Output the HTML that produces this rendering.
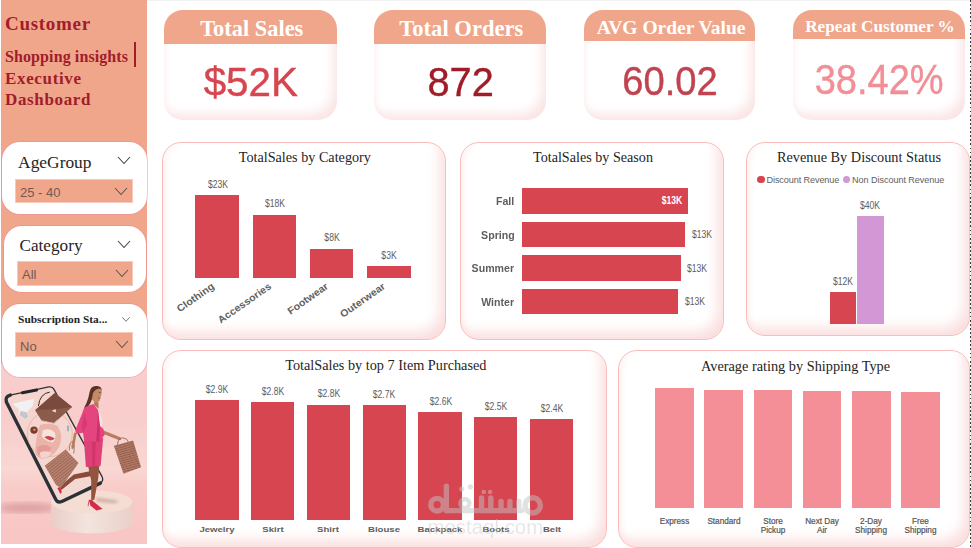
<!DOCTYPE html>
<html>
<head>
<meta charset="utf-8">
<title>Customer Shopping insights | Executive Dashboard</title>
<style>
*{box-sizing:border-box;margin:0;padding:0}
html,body{width:971px;height:548px;overflow:hidden;background:#fff}
body{position:relative;font-family:"Liberation Sans",sans-serif;color:#605E5C}
.abs{position:absolute}
.serif{font-family:"Liberation Serif",serif}
.topline{left:0;top:0;width:971px;height:1px;background:#f3f3f3}
.rightline{left:969.7px;top:0;width:1.3px;height:548px;background:repeating-linear-gradient(to bottom,#3a3a3a 0,#3a3a3a 1.8px,transparent 1.8px,transparent 4.1px)}
/* sidebar */
.side{left:1.3px;top:0;width:145.9px;height:363.5px;background:#F0A68A}
.sideimg{left:1px;top:375px;width:146px;height:170px;background:#F8CDCB;overflow:hidden}
.ttl{color:#A21C2B;font-family:"Liberation Serif",serif;font-weight:bold;white-space:nowrap}
.slicer{z-index:2;background:#fff;border-radius:18px;box-shadow:0 0 0 0.8px rgba(240,128,145,.55)}
.slicer .h{position:absolute;font-family:"Liberation Serif",serif;color:#252423;white-space:nowrap}
.dd{position:absolute;background:#F0A68A;border:1px solid #F6C9BC;font-size:13px;color:#73594f;white-space:nowrap}
/* kpi */
.kpi{background:#fff;border-radius:19px;overflow:hidden;box-shadow:inset -8px -10px 12px -4px #fbe4e4, inset 5px 0 7px -4px #fdeeee}
.kpi .hd{position:absolute;left:0;top:0;right:0;background:#F0A68A;color:#fff;font-family:"Liberation Serif",serif;font-weight:bold;text-align:center;white-space:nowrap}
.kpi .val{position:absolute;left:0;right:0;text-align:center;white-space:nowrap;-webkit-text-stroke:0.4px currentColor}
/* cards */
.card{background:#fff;border:1px solid #F9BDBB;border-radius:19px;box-shadow:inset -9px -11px 13px -4px #fbdede, inset 6px 0 8px -5px #fdeaea}
.ct{position:absolute;font-family:"Liberation Serif",serif;color:#252423;white-space:nowrap;text-align:center;transform:translateX(-50%)}
.bar{position:absolute;background:#D64550}
.pbar{position:absolute;background:#F48E97}
.vl{position:absolute;font-size:10px;line-height:10px;color:#605E5C;white-space:nowrap;transform:translateX(-50%) scaleX(0.86)}
.sl{transform:translateX(-50%)}
.al{position:absolute;font-size:9px;font-weight:bold;color:#605E5C;white-space:nowrap}
.alc{transform:translateX(-50%) scaleX(1.2);text-align:center;font-size:8px}
.rot{transform-origin:100% 50%;transform:translate(-100%,-50%) rotate(-35deg) scaleX(1.06);font-size:10px}
</style>
</head>
<body>
<div class="abs topline"></div>
<div class="abs rightline"></div>

<!-- SIDEBAR -->
<div class="abs side"></div>
<div class="abs ttl" style="left:5px;top:13px;font-size:19px;letter-spacing:0.7px">Customer</div>
<div class="abs ttl" style="left:5px;top:47.5px;font-size:16px;letter-spacing:0.1px">Shopping insights</div>
<div class="abs" style="left:133.6px;top:42.2px;width:2px;height:24.4px;background:#A21C2B"></div>
<div class="abs ttl" style="left:5px;top:69px;font-size:17px;letter-spacing:0.65px">Executive</div>
<div class="abs ttl" style="left:5px;top:90px;font-size:17px;letter-spacing:0.65px">Dashboard</div>

<div class="abs slicer" style="left:2.1px;top:142.4px;width:144.7px;height:71.4px">
  <div class="h" style="left:16px;top:10px;font-size:17.4px">AgeGroup</div>
  <svg class="abs" style="left:115px;top:14px" width="14" height="9" viewBox="0 0 14 9"><path d="M1 1 L7 7.5 L13 1" fill="none" stroke="#444" stroke-width="1.1"/></svg>
  <div class="dd" style="left:12.9px;top:36.2px;width:118px;height:24.6px;line-height:25px;padding-left:4px">25 - 40</div>
  <svg class="abs" style="left:112px;top:44.3px" width="14" height="9" viewBox="0 0 14 9"><path d="M1 1 L7 7.5 L13 1" fill="none" stroke="#5e5450" stroke-width="1.1"/></svg>
</div>
<div class="abs slicer" style="left:3.5px;top:226px;width:142.6px;height:65.7px">
  <div class="h" style="left:16px;top:9.8px;font-size:17.2px">Category</div>
  <svg class="abs" style="left:113px;top:13.8px" width="14" height="9" viewBox="0 0 14 9"><path d="M1 1 L7 7.5 L13 1" fill="none" stroke="#444" stroke-width="1.1"/></svg>
  <div class="dd" style="left:13.5px;top:35.3px;width:116px;height:25px;line-height:26px;padding-left:4px">All</div>
  <svg class="abs" style="left:111px;top:43.3px" width="14" height="9" viewBox="0 0 14 9"><path d="M1 1 L7 7.5 L13 1" fill="none" stroke="#5e5450" stroke-width="1.1"/></svg>
</div>
<div class="abs slicer" style="left:2.1px;top:304px;width:144.7px;height:73.3px">
  <div class="h" style="left:16px;top:9.2px;font-size:11.4px;font-weight:bold">Subscription Sta...</div>
  <svg class="abs" style="left:119px;top:11.5px" width="10" height="7" viewBox="0 0 10 7"><path d="M1.3 1.3 L5 5.3 L8.7 1.3" fill="none" stroke="#666" stroke-width="0.9"/></svg>
  <div class="dd" style="left:13px;top:28.2px;width:118px;height:25px;line-height:27px;padding-left:4px">No</div>
  <svg class="abs" style="left:113px;top:35.7px" width="14" height="9" viewBox="0 0 14 9"><path d="M1 1 L7 7.5 L13 1" fill="none" stroke="#5e5450" stroke-width="1.1"/></svg>
</div>

<!-- IMAGE placeholder -->
<svg class="abs" style="left:1.2px;top:363.5px" width="146" height="180.8" viewBox="1.2 363.5 146 180.8">
<defs>
<linearGradient id="bg" x1="0" y1="0" x2="0" y2="1">
<stop offset="0" stop-color="#F8CECC"/><stop offset="0.3" stop-color="#F8CDCB"/><stop offset="0.58" stop-color="#F9D7D3"/><stop offset="0.68" stop-color="#F8CCC9"/><stop offset="1" stop-color="#F8C5C4"/>
</linearGradient>
<linearGradient id="ped" x1="0" y1="0" x2="1" y2="0">
<stop offset="0" stop-color="#E9CEC6"/><stop offset="0.45" stop-color="#F3E4DE"/><stop offset="1" stop-color="#EAD0C8"/>
</linearGradient>
<linearGradient id="scr" x1="0" y1="0" x2="1" y2="1">
<stop offset="0" stop-color="#F6D3CE"/><stop offset="1" stop-color="#F3D9D2"/>
</linearGradient>
<pattern id="zz" width="3" height="2.4" patternUnits="userSpaceOnUse" patternTransform="rotate(-38)">
<rect width="3" height="2.4" fill="#B98472"/><path d="M0 1.8 L1.5 0.6 L3 1.8" fill="none" stroke="#7E4A3C" stroke-width="0.7"/>
</pattern>
<pattern id="zz2" width="2.6" height="2.2" patternUnits="userSpaceOnUse" patternTransform="rotate(-15)">
<rect width="2.6" height="2.2" fill="#B27A66"/><path d="M0 1.6 L1.3 0.5 L2.6 1.6" fill="none" stroke="#7E4A3C" stroke-width="0.7"/>
</pattern>
<filter id="b1"><feGaussianBlur stdDeviation="0.45"/></filter>
<filter id="b3"><feGaussianBlur stdDeviation="3"/></filter>
<filter id="b2"><feGaussianBlur stdDeviation="1.5"/></filter>
</defs>
<rect x="1.2" y="363.5" width="146" height="180.8" fill="url(#bg)"/>
<!-- floor shadow -->
<ellipse cx="27" cy="507.5" rx="29" ry="5" fill="#D8989C" opacity="0.85" filter="url(#b3)"/>
<g filter="url(#b1)">
<!-- pedestal -->
<path d="M51.2 501.5 L51.2 521.5 A40.8 11.5 0 0 0 132.8 521.5 L132.8 501.5 Z" fill="url(#ped)"/>
<ellipse cx="92" cy="501.5" rx="40.8" ry="11.5" fill="#F4DDD3"/>
<path d="M96 497 L118 500 L116 503 L97 501 Z" fill="#C9A298" opacity="0.8" filter="url(#b2)"/>
<!-- phone -->
<path d="M10.5 394.6 L49 386.4 Q52.5 385.8 54 388.6 L102.4 476.4 Q104 480 100.6 482.6 L62 501 Q58 502.8 56 499 L6.6 401.5 Q5 396 10.5 394.6 Z" fill="url(#scr)" stroke="#2E3338" stroke-width="1.3" stroke-linejoin="round"/>
<path d="M10.5 394.6 Q5 396 6.6 401.5 L56 499 Q58 502.8 62 501 L100.6 482.6" fill="none" stroke="#2B3035" stroke-width="3.4" stroke-linecap="round" stroke-linejoin="round"/>
<path d="M22.6 392.2 L36.8 389.6" stroke="#23272B" stroke-width="3" stroke-linecap="round"/>
<!-- necklace ring -->
<circle cx="50" cy="433.5" r="22.5" fill="none" stroke="#E5B79C" stroke-width="0.9"/>
<!-- boot -->
<path d="M12.6 403.3 L34 398.6 L33.4 405 L27 411.6 L29 416.4 L25.5 419.2 L18.6 414.2 L19.4 409 Z" fill="#F1F1F3"/>
<path d="M21 410.5 L26.6 411.8 L28.7 416.2 L25.5 418.7 L19.4 414.2 Z" fill="#C4C6CC"/>
<!-- bag 1 -->
<path d="M38.6 405.6 Q40 393 50 391.6" fill="none" stroke="#3A2A26" stroke-width="1"/>
<path d="M35.3 409.7 L55 392.4 L72.3 406.4 L54.2 422.8 L41.9 420.3 Z" fill="#8C5C4C"/>
<path d="M35.3 409.7 L55 392.4 L72.3 406.4 L58 408.5 Z" fill="#7A4C3E"/>
<path d="M52 410.4 L55.6 408.6 L56.4 412 Z" fill="#E8E0DC"/>
<path d="M41.9 420.3 L54.2 422.8 L58 419" fill="none" stroke="#D9B8A8" stroke-width="0.9"/>
<!-- cookie -->
<circle cx="34.2" cy="429.6" r="3.7" fill="#7A3C2C"/>
<circle cx="34.6" cy="429.2" r="1.3" fill="#C98A6A"/>
<!-- flower -->
<path d="M40.2 424.6 Q50 421.5 57.5 425.3 Q63 433 60.8 441.7 Q59 449 54.2 453.2 Q47 458.6 41 458.1 Q35 455 35.3 449.9 Q36 437 40.2 424.6 Z" fill="#EBB4AA"/>
<path d="M43 430 Q50 427 55 432 Q57 438 53 442 Q46 441 42 436 Z" fill="#F6E4DC"/>
<path d="M44.5 436.6 Q49.5 433.6 55 438 Q50 442.4 44.5 436.6 Z" fill="#CF4550"/>
<path d="M37 447 Q44 441.5 52 447.5 Q46 456 38 454 Z" fill="#E59C98"/>
<path d="M40 452 Q47 449 52 453 Q47 458 41 457.5 Z" fill="#F2D6CC"/>
<!-- earring -->
<path d="M67.4 424.5 L69.4 425.5 L69 431 L67.2 430.4 Z" fill="#9FAEC0"/>
<!-- back leg -->
<path d="M91 470.5 L74 474 L59.6 486.2 L61.6 489.4 L75.4 478.4 L92 475.6 Z" fill="#8A4C3A"/>
<path d="M57.6 487.6 L60.4 486.6 L62 491.4 L60.6 493.4 Z" fill="#D52A48"/>
<!-- zigzag bag 2 -->
<path d="M69.4 450 Q70 440 73.4 441 Q75 444 74 453" fill="none" stroke="#A07060" stroke-width="0.9"/>
<path d="M45 465.2 L65.9 449.1 L78.7 462.6 L61 487.6 L56.2 484.4 Z" fill="url(#zz)"/>
<!-- hand left -->
<path d="M74.4 432 L76.8 432.8 L74.2 447.5 L72 449 L71.6 446 Z" fill="#B97C5E"/>
<!-- front leg -->
<path d="M88 464 L99.6 463.4 L98.4 478 L94.6 499 L91.4 500.6 L91.4 480 Z" fill="#93523E"/>
<path d="M89 499.3 L91.8 499.6 L102.8 508.6 L96.6 509.9 L90.6 505 Z" fill="#D72A48"/>
<path d="M89.2 500 L88.3 505.8" stroke="#C02440" stroke-width="0.7"/>
<!-- skirt -->
<path d="M84.2 440.6 L103.4 437.6 L100.8 465.6 L86.1 466.4 Z" fill="#DF3F78"/>
<path d="M92 441 L96 441 L95 466 L92.5 466 Z" fill="#CC2D62" opacity="0.6"/>
<!-- right forearm -->
<path d="M104.4 430.2 L120.6 436.8 L121.4 439.6 L118.8 439.4 L103.8 433.4 Z" fill="#B97C5E"/>
<!-- shirt -->
<path d="M98.6 408 L102.6 418.7 L102 430.4 L98.6 429.6 Z" fill="#EFE5DE"/>
<!-- neck -->
<path d="M94.4 399.5 L98.6 401 L98.8 408.2 L94.4 404.6 Z" fill="#B47858"/>
<!-- jacket -->
<path d="M84.6 406.4 L93.7 403.6 L98.2 409.6 L100 425.3 L103.6 428.4 L105 434 L99.8 441 L84.4 441 L83.2 432.2 L76.4 433.2 L75.4 430 L82 413.8 Z" fill="#E4457F"/>
<path d="M98.2 410 L100 425.3 L99.8 441 L96.4 441 L97.6 424 Z" fill="#D02F68"/>
<path d="M84.6 412 L87.4 424 L83.2 432.2 L82 425 Z" fill="#D73570" opacity="0.8"/>
<!-- head -->
<path d="M90.6 392 Q91.6 385.6 97.4 386 Q102.6 386.8 102 392.6 L100 400 L96.6 402.4 L92.4 399.6 Z" fill="#C28A6A"/>
<path d="M97.6 385.6 Q91 384.6 89.8 391.6 Q88.8 398 86.6 402.8 L84.4 407 L88.4 405.6 Q92 401.6 92.6 395.4 Q93 389.6 99 388 Q101.4 388.2 102 390 Q101.6 386 97.6 385.6 Z" fill="#5B3322"/>
<path d="M99 391.8 L100.8 392" stroke="#3a2018" stroke-width="0.6"/>
<path d="M98.2 397.4 L100 397.6" stroke="#A03A3A" stroke-width="0.8"/>
<!-- shopping bag -->
<path d="M117.6 444.4 Q118.4 437 123 437.4 Q127.6 437.8 128.6 441.4" fill="none" stroke="#8A5A4A" stroke-width="0.8"/>
<path d="M114 445.2 L133.3 440.1 L141.3 466.8 L123.7 473.2 Z" fill="url(#zz2)"/>
</g>
</svg>

<!-- KPI -->
<div class="abs kpi" style="left:164.2px;top:9.5px;width:172.7px;height:110.7px">
  <div class="hd" style="height:34.8px;line-height:37.5px;font-size:22.4px;padding-left:2.5px">Total Sales</div>
  <div class="val" style="top:49.3px;font-size:41px;color:#D64550;transform:scaleX(0.985);padding-left:1px">$52K</div>
</div>
<div class="abs kpi" style="left:374.2px;top:9.5px;width:171.8px;height:110.6px">
  <div class="hd" style="height:34.8px;line-height:37.5px;font-size:22.6px;padding-left:2.5px">Total Orders</div>
  <div class="val" style="top:49.7px;font-size:41px;color:#A01C28;transform:scaleX(0.97);padding-left:1.5px">872</div>
</div>
<div class="abs kpi" style="left:584.1px;top:9.5px;width:171px;height:110.6px">
  <div class="hd" style="height:31.7px;line-height:35.4px;font-size:19.5px;padding-left:3px">AVG Order Value</div>
  <div class="val" style="top:48.6px;font-size:41px;color:#C04450;transform:scaleX(0.93);padding-left:1px">60.02</div>
</div>
<div class="abs kpi" style="left:792.8px;top:9.5px;width:172.3px;height:110.6px">
  <div class="hd" style="height:29.6px;line-height:33.5px;font-size:17.2px;padding-left:2px">Repeat Customer %</div>
  <div class="val" style="top:46px;font-size:42px;color:#F28E96;transform:scaleX(0.905)">38.42%</div>
</div>

<!-- CARD A: category -->
<div class="abs card" style="left:162px;top:142px;width:284px;height:198px"></div>
<div class="ct" style="left:304.8px;top:149.3px;font-size:14.2px">TotalSales by Category</div>
<div class="bar" style="left:195.4px;top:194.8px;width:44px;height:83px"></div>
<div class="bar" style="left:252.6px;top:214.5px;width:43.8px;height:63.3px"></div>
<div class="bar" style="left:309.9px;top:248.5px;width:43.6px;height:29.3px"></div>
<div class="bar" style="left:367px;top:266px;width:43.6px;height:11.8px"></div>
<div class="vl" style="left:217.6px;top:179.8px">$23K</div>
<div class="vl" style="left:274.5px;top:199.3px">$18K</div>
<div class="vl" style="left:331.9px;top:232.8px">$8K</div>
<div class="vl" style="left:388.7px;top:251px">$3K</div>
<div class="al rot" style="left:212.8px;top:284.8px">Clothing</div>
<div class="al rot" style="left:270px;top:284.8px">Accessories</div>
<div class="al rot" style="left:327px;top:284.8px">Footwear</div>
<div class="al rot" style="left:384px;top:284.8px">Outerwear</div>

<!-- CARD B: season -->
<div class="abs card" style="left:460px;top:142px;width:264px;height:198px"></div>
<div class="ct" style="left:593px;top:149.3px;font-size:14.15px">TotalSales by Season</div>
<div class="bar" style="left:522.2px;top:187.9px;width:165.7px;height:25.9px"></div>
<div class="bar" style="left:522.2px;top:221.8px;width:162.7px;height:25.3px"></div>
<div class="bar" style="left:522.2px;top:255.4px;width:158.7px;height:25.5px"></div>
<div class="bar" style="left:522.2px;top:289.1px;width:155.8px;height:25.4px"></div>
<div class="al" style="right:456.5px;top:195.8px;transform-origin:100% 50%;transform:scaleX(1.06);font-size:10px">Fall</div>
<div class="al" style="right:456.5px;top:229.6px;transform-origin:100% 50%;transform:scaleX(1.06);font-size:10px">Spring</div>
<div class="al" style="right:456.5px;top:263.2px;transform-origin:100% 50%;transform:scaleX(1.06);font-size:10px">Summer</div>
<div class="al" style="right:456.5px;top:296.8px;transform-origin:100% 50%;transform:scaleX(1.06);font-size:10px">Winter</div>
<div class="vl" style="left:671.8px;top:195.9px;color:#fff;font-weight:bold">$13K</div>
<div class="vl" style="left:701.5px;top:230.1px">$13K</div>
<div class="vl" style="left:697.1px;top:264.1px">$13K</div>
<div class="vl" style="left:694.8px;top:297.4px">$13K</div>

<!-- CARD C: discount -->
<div class="abs card" style="left:746px;top:142px;width:224px;height:194px"></div>
<div class="ct" style="left:859px;top:149.4px;font-size:14.3px">Revenue By Discount Status</div>
<div class="abs" style="left:757.2px;top:175.8px;width:7.4px;height:7.4px;border-radius:50%;background:#D64550"></div>
<div class="abs" style="left:766.5px;top:174.7px;font-size:9.1px;letter-spacing:-0.1px;white-space:nowrap">Discount Revenue</div>
<div class="abs" style="left:842.7px;top:175.8px;width:7.4px;height:7.4px;border-radius:50%;background:#D297D4"></div>
<div class="abs" style="left:852px;top:174.7px;font-size:9.1px;letter-spacing:-0.06px;white-space:nowrap">Non Discount Revenue</div>
<div class="bar" style="left:829.7px;top:292.3px;width:26.4px;height:31.5px"></div>
<div class="bar" style="left:856.8px;top:216.2px;width:27.1px;height:107.6px;background:#D297D4"></div>
<div class="vl" style="left:842.6px;top:277.2px">$12K</div>
<div class="vl" style="left:870.3px;top:201.3px">$40K</div>

<!-- CARD D: top 7 -->
<div class="abs card" style="left:162px;top:350px;width:445px;height:198px"></div>
<div class="ct" style="left:385.8px;top:357px;font-size:14.25px">TotalSales by top 7 Item Purchased</div>
<div class="bar" style="left:194.9px;top:400.4px;width:44.0px;height:119.9px"></div>
<div class="bar" style="left:250.9px;top:402.4px;width:43.3px;height:117.9px"></div>
<div class="bar" style="left:306.5px;top:404.5px;width:43.7px;height:115.8px"></div>
<div class="bar" style="left:362.5px;top:405.2px;width:43.5px;height:115.1px"></div>
<div class="bar" style="left:418.4px;top:412.4px;width:43.4px;height:107.9px"></div>
<div class="bar" style="left:474.0px;top:416.9px;width:43.4px;height:103.4px"></div>
<div class="bar" style="left:530.2px;top:419.0px;width:43.3px;height:101.3px"></div>
<div class="vl" style="left:217.0px;top:385.2px">$2.9K</div>
<div class="vl" style="left:273.1px;top:387.3px">$2.8K</div>
<div class="vl" style="left:328.5px;top:389.3px">$2.8K</div>
<div class="vl" style="left:384.2px;top:390.2px">$2.7K</div>
<div class="vl" style="left:440.5px;top:397.3px">$2.6K</div>
<div class="vl" style="left:496.1px;top:402.0px">$2.5K</div>
<div class="vl" style="left:551.7px;top:404.1px">$2.4K</div>
<div class="al alc" style="left:216.5px;top:524.7px">Jewelry</div>
<div class="al alc" style="left:272.5px;top:524.7px">Skirt</div>
<div class="al alc" style="left:328px;top:524.7px">Shirt</div>
<div class="al alc" style="left:384px;top:524.7px">Blouse</div>
<div class="al alc" style="left:439.5px;top:524.7px">Backpack</div>
<div class="al alc" style="left:495.5px;top:524.7px">Boots</div>
<div class="al alc" style="left:551.5px;top:524.7px">Belt</div>

<!-- CARD E: shipping -->
<div class="abs card" style="left:618px;top:349.5px;width:352px;height:198px"></div>
<div class="ct" style="left:795.5px;top:358px;font-size:14.3px">Average rating by Shipping Type</div>
<div class="pbar" style="left:655.2px;top:388.2px;width:38.4px;height:119.8px"></div>
<div class="pbar" style="left:704.3px;top:389.5px;width:38.4px;height:118.5px"></div>
<div class="pbar" style="left:753.7px;top:390.3px;width:38.2px;height:117.7px"></div>
<div class="pbar" style="left:802.9px;top:391.0px;width:38.2px;height:117.0px"></div>
<div class="pbar" style="left:852.2px;top:391.1px;width:38.4px;height:116.9px"></div>
<div class="pbar" style="left:901.3px;top:392.0px;width:38.4px;height:116.0px"></div>
<div class="vl sl" style="left:674.5px;top:517.6px;font-size:8.2px;line-height:8.9px;text-align:center;color:#555;-webkit-text-stroke:0.2px #555">Express</div>
<div class="vl sl" style="left:724px;top:517.6px;font-size:8.2px;line-height:8.9px;text-align:center;color:#555;-webkit-text-stroke:0.2px #555">Standard</div>
<div class="vl sl" style="left:773px;top:517.6px;font-size:8.2px;line-height:8.9px;text-align:center;color:#555;-webkit-text-stroke:0.2px #555">Store<br>Pickup</div>
<div class="vl sl" style="left:822px;top:517.6px;font-size:8.2px;line-height:8.9px;text-align:center;color:#555;-webkit-text-stroke:0.2px #555">Next Day<br>Air</div>
<div class="vl sl" style="left:871px;top:517.6px;font-size:8.2px;line-height:8.9px;text-align:center;color:#555;-webkit-text-stroke:0.2px #555">2-Day<br>Shipping</div>
<div class="vl sl" style="left:920.5px;top:517.6px;font-size:8.2px;line-height:8.9px;text-align:center;color:#555;-webkit-text-stroke:0.2px #555">Free<br>Shipping</div>


<!-- watermark -->
<svg class="abs" style="left:400px;top:455px;z-index:5" width="180" height="93" viewBox="0 0 971 502">
<g opacity="0.5" fill="none" stroke="#C4C4C4" stroke-width="29" stroke-linecap="round" stroke-linejoin="round">
<path d="M250 168 L250 300"/>
<circle cx="200" cy="268" r="34"/>
<path d="M250 300 L655 300"/>
<circle cx="350" cy="262" r="24" stroke-width="24"/>
<path d="M440 300 L440 232"/>
<path d="M490 300 L490 232"/>
<path d="M545 300 L545 250"/>
<path d="M593 300 L593 250"/>
<path d="M641 300 L641 250"/>
<circle cx="716" cy="272" r="41"/>
</g>
<g opacity="0.5" fill="#C4C4C4">
<circle cx="333" cy="184" r="14"/><circle cx="380" cy="172" r="14"/>
<circle cx="452" cy="200" r="12"/><circle cx="486" cy="200" r="12"/>
</g>
<text x="148" y="424" font-family="Liberation Sans, sans-serif" font-size="110" fill="#C8C8C8" opacity="0.42" textLength="625" lengthAdjust="spacingAndGlyphs">mostaql.com</text>
</svg>
</body>
</html>
